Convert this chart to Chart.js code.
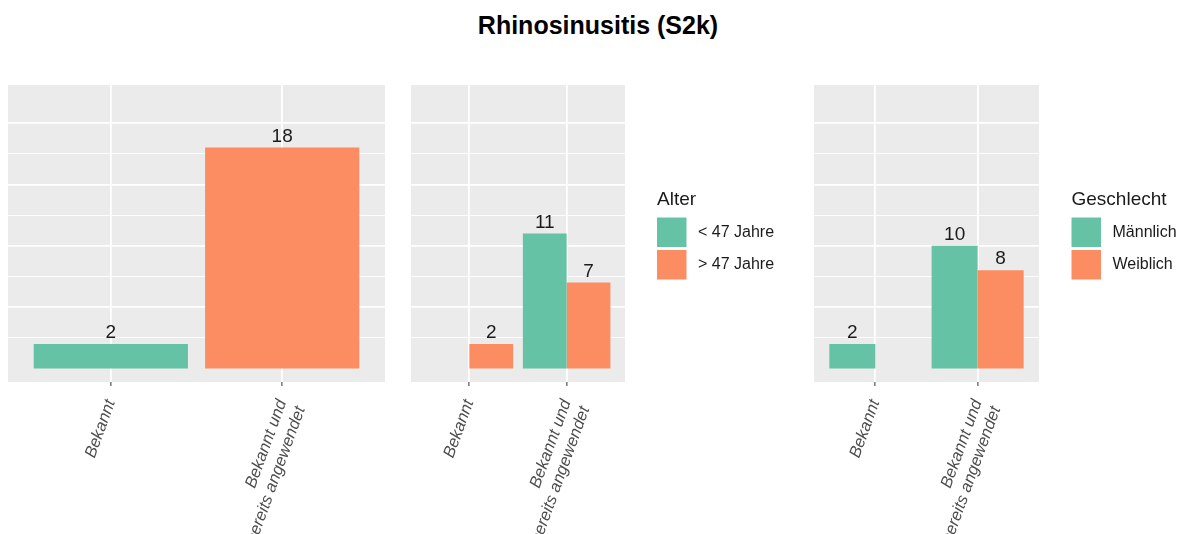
<!DOCTYPE html>
<html>
<head>
<meta charset="utf-8">
<script src="https://cdn.jsdelivr.net/npm/chart.js@4.4.1/dist/chart.umd.min.js"></script>
<style>
  html, body { margin: 0; padding: 0; background: #fff; }
  #wrap { position: relative; width: 1184px; height: 534px; overflow: hidden; }
  #title { position: absolute; left: 0; top: 13px; width: 1196px; text-align: center;
           font: bold 25px "Liberation Sans", Arial, sans-serif; line-height: 25px; color: #000; }
  canvas { position: absolute; top: 0; }
</style>
</head>
<body>
<div id="wrap">
  <div id="title">Rhinosinusitis (S2k)</div>
  <canvas id="c1" style="left:0px" width="400" height="534"></canvas>
  <canvas id="c2" style="left:400px" width="400" height="534"></canvas>
  <canvas id="c3" style="left:800px" width="384" height="534"></canvas>
</div>
<script>
// categories (tick labels, one line per array entry)
const categoryLabels = [['Bekannt'], ['Bekannt und', 'bereits angewendet']];

// panel 1: all respondents
const totalValues = [2, 18];

// panel 2: by age
const ageTitle = 'Alter';
const ageGroups = ['< 47 Jahre', '> 47 Jahre'];
const ageYoung = [null, 11];
const ageOld = [2, 7];

// panel 3: by sex
const sexTitle = 'Geschlecht';
const sexGroups = ['Männlich', 'Weiblich'];
const sexMale = [2, 10];
const sexFemale = [null, 8];

const groupColors = ['#66C2A5', '#FC8D62'];
const FONT = '"Liberation Sans", Arial, sans-serif';

const toPoints = arr => arr.map((v, i) => ({ x: i, y: v }));

// grey ggplot-like panel
const panelBg = {
  id: 'panelBg',
  beforeDraw(chart) {
    const { ctx, chartArea: a } = chart;
    ctx.save();
    ctx.fillStyle = '#EBEBEB';
    ctx.fillRect(a.left, a.top, a.width, a.height);
    ctx.restore();
  }
};

// numbers above bars
const valueLabels = {
  id: 'valueLabels',
  afterDatasetsDraw(chart) {
    const ctx = chart.ctx;
    ctx.save();
    ctx.font = '19px ' + FONT;
    ctx.fillStyle = '#1A1A1A';
    ctx.textAlign = 'center';
    ctx.textBaseline = 'alphabetic';
    chart.data.datasets.forEach((ds, di) => {
      chart.getDatasetMeta(di).data.forEach((bar, i) => {
        const v = ds.data[i].y;
        if (v == null) return;
        ctx.fillText(String(v), bar.x, bar.y - 6);
      });
    });
    ctx.restore();
  }
};

// legend to the right of the panel
const sideLegend = {
  id: 'sideLegend',
  afterDraw(chart, args, opts) {
    if (!opts || !opts.title) return;
    const ctx = chart.ctx;
    ctx.save();
    ctx.fillStyle = '#1A1A1A';
    ctx.font = '19px ' + FONT;
    ctx.textAlign = 'left';
    ctx.textBaseline = 'alphabetic';
    ctx.fillText(opts.title, opts.x, 205);
    chart.data.datasets.forEach((ds, i) => {
      const top = 217.5 + i * 32.5;
      ctx.fillStyle = ds.backgroundColor;
      ctx.fillRect(opts.x, top, 29.5, 29.5);
      ctx.fillStyle = '#1A1A1A';
      ctx.font = '16px ' + FONT;
      ctx.textBaseline = 'middle';
      ctx.fillText(ds.label, opts.x + 41, top + 15);
    });
    ctx.restore();
  }
};

function makeOptions(pad, legend) {
  return {
    responsive: false,
    animation: false,
    layout: { padding: pad },
    datasets: { bar: { categoryPercentage: 0.9, barPercentage: 1.0 } },
    plugins: {
      legend: { display: false },
      tooltip: { enabled: false },
      sideLegend: legend
    },
    scales: {
      x: {
        type: 'linear',
        min: -0.6,
        max: 1.6,
        offset: false,
        afterBuildTicks: s => { s.ticks = categoryLabels.map((_, i) => ({ value: i })); },
        afterFit: s => { s.height = 152; },
        border: { display: false },
        grid: { offset: false, color: '#FFFFFF', lineWidth: 1.8, tickColor: '#333333', tickLength: 4, tickWidth: 1 },
        ticks: {
          minRotation: 70, maxRotation: 70, autoSkip: false, padding: 11,
          color: '#4D4D4D',
          font: { family: FONT, size: 16.5, style: 'italic', lineHeight: 1.2 },
          callback: v => categoryLabels[v]
        }
      },
      y: {
        min: -1.1,
        max: 23.1,
        border: { display: false },
        grid: { color: '#FFFFFF', lineWidth: c => (c.tick.value % 5 === 0 ? 1.8 : 0.9), drawTicks: false },
        ticks: { display: false, stepSize: 2.5 },
        afterBuildTicks: s => { s.ticks = s.ticks.filter(t => t.value >= 0 && t.value <= 22.5); },
        afterFit: s => { s.width = 0; }
      }
    }
  };
}

new Chart(document.getElementById('c1'), {
  type: 'bar',
  data: {
    datasets: [{ label: 'Gesamt', data: toPoints(totalValues), backgroundColor: groupColors }]
  },
  options: makeOptions({ left: 8, right: 15, top: 85, bottom: 0 }, false),
  plugins: [panelBg, valueLabels]
});

new Chart(document.getElementById('c2'), {
  type: 'bar',
  data: {
    datasets: [
      { label: ageGroups[0], data: toPoints(ageYoung), backgroundColor: groupColors[0] },
      { label: ageGroups[1], data: toPoints(ageOld), backgroundColor: groupColors[1] }
    ]
  },
  options: makeOptions({ left: 11, right: 175, top: 85, bottom: 0 }, { title: ageTitle, x: 257 }),
  plugins: [panelBg, valueLabels, sideLegend]
});

new Chart(document.getElementById('c3'), {
  type: 'bar',
  data: {
    datasets: [
      { label: sexGroups[0], data: toPoints(sexMale), backgroundColor: groupColors[0] },
      { label: sexGroups[1], data: toPoints(sexFemale), backgroundColor: groupColors[1] }
    ]
  },
  options: makeOptions({ left: 14, right: 145, top: 85, bottom: 0 }, { title: sexTitle, x: 271.5 }),
  plugins: [panelBg, valueLabels, sideLegend]
});
</script>
</body>
</html>
